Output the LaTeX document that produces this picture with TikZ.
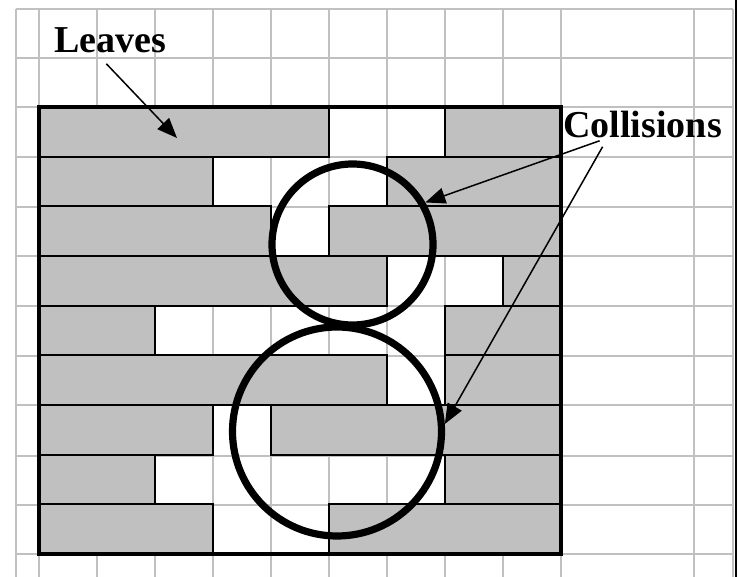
\documentclass[tikz,border=0pt]{standalone}
\usepackage{fontspec}
\setmainfont{Liberation Serif}
\usetikzlibrary{arrows.meta}
\definecolor{gridgray}{HTML}{C0C0C0}

\begin{document}
\begin{tikzpicture}[
            x=0.5pt, y=-0.5pt,
            >={Triangle[length=10pt, width=8pt]},
            gridline/.style={draw=gridgray, line width=1.25pt},
            brick/.style={fill=gridgray, draw=black, line width=1.1pt},
            ring/.style={draw, circle, line width=3.6pt, inner sep=0pt},
            tag/.style={font=\bfseries\fontsize{19}{22}\selectfont, inner sep=0pt},
            pointer/.style={->, line width=0.75pt}
        ]
            \useasboundingbox (0,0) rectangle (738,577);

            % Grid
            \foreach \y in {9,58,107,157,207,256,306,356,405,456,505,554}
                \draw[gridline] (16,\y) -- (733,\y);
            \foreach \x in {16,39,97,155,213,271,329,387,445,503,561,694,733}
                \draw[gridline] (\x,9) -- (\x,577);
            \draw[line width=1.25pt] (736,0) -- (736,577);

            % Bricks
            \foreach \r/\a/\b in {0/0/5, 0/7/9, 1/0/3, 1/6/9, 2/0/4, 2/5/9,
                                  3/0/6, 3/8/9, 4/0/2, 4/7/9, 5/0/6, 5/7/9,
                                  6/0/3, 6/4/9, 7/0/2, 7/7/9, 8/0/3, 8/5/9}
                \draw[brick] ({39+58*\a},{107+49.67*\r}) rectangle ({39+58*\b},{107+49.67*(\r+1)});
            \draw[line width=2pt] (39,107) rectangle (561,554);

            % Collisions
            \node[ring, minimum size=80.5pt] (upper) at (352.5,244.5) {};
            \node[ring, minimum size=104.5pt] (lower) at (337,431.5) {};
            \node[tag, anchor=base west] (colls) at (563,138) {Collisions};
            \draw[pointer] ([xshift=-21.5pt, yshift=-1pt]colls.south) -- (upper.30);
            \draw[pointer] ([xshift=-20pt, yshift=-4pt]colls.south) -- (lower.4);

            % Leaves
            \node[tag, anchor=base west] (leaves) at (54,53) {Leaves};
            \coordinate (leaf) at (177,138);
            \draw[pointer] ([xshift=-2pt, yshift=-5pt]leaves.south) -- (leaf);
        \end{tikzpicture}
\end{document}
